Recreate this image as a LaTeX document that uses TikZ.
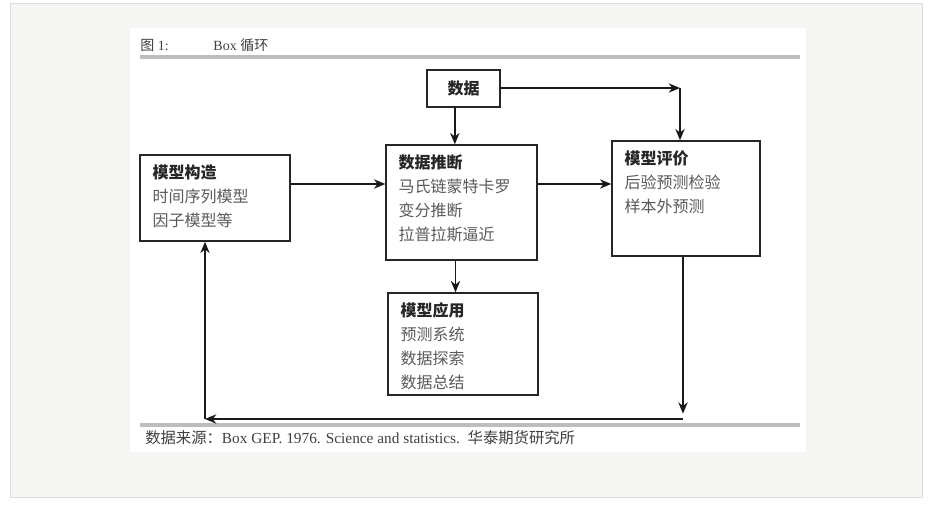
\documentclass[tikz,border=0pt]{standalone}
\usepackage{fontspec}
\setmainfont{Liberation Serif}
\newfontfamily\cjk{Noto Sans CJK SC}
\usetikzlibrary{positioning,arrows.meta}
\definecolor{pagegray}{HTML}{F5F5F3}
\definecolor{framegray}{HTML}{DCDCDC}
\definecolor{rulegray}{HTML}{BDBDBD}
\definecolor{txtgray}{HTML}{5A5A5A}

\tikzset{
  stage/.style={draw=black!85, line width=1.1pt, fill=white, inner sep=0pt},
  stagetext/.style={anchor=north west, align=left, inner sep=0pt, text=txtgray,
    font=\cjk\fontsize{12}{18}\selectfont},
  flow/.style={->, line width=1.1pt, black!90},
  grayrule/.style={rulegray, line width=2.4pt},
}
\newcommand{\hd}[1]{\textcolor{black!85}{\bfseries #1}}

\begin{document}
\begin{tikzpicture}[>={Stealth[length=8.5pt,width=7pt]}, x=0.75pt, y=-0.75pt]
\useasboundingbox (0,0) rectangle (928,506);
% page and panel
\fill[white] (0,0) rectangle (928,506);
\filldraw[fill=pagegray, draw=framegray] (10,3) rectangle (922,497);
\fill[white] (130,28) rectangle (806,452);

% title and rules
\node[anchor=west, inner sep=0pt, text=black!75, font=\fontsize{10.5}{12}\selectfont] (title) at (140,45) {{\cjk 图} 1:\hspace{3.2em}Box {\cjk 循环}};
\draw[grayrule] (140,57) -- (800,57);
\draw[grayrule] (140,425) -- (800,425);
\node[anchor=west, inner sep=0pt, text=black!75, font=\fontsize{11.5}{13}\selectfont] (source) at (145,438) {{\cjk 数据来源：}Box GEP. 1976. Science and statistics.\ \ {\cjk 华泰期货研究所}};

% boxes
\node[stage, minimum width=73*0.75pt, minimum height=37*0.75pt, font=\cjk\fontsize{12}{14}\selectfont] (data) at (463.5,88.5) {\hd{数据}};
\node[stage, minimum width=150*0.75pt, minimum height=86*0.75pt] (build) at (215,198) {};
\node[stage, minimum width=151*0.75pt, minimum height=115*0.75pt] (infer) at (461.5,202.5) {};
\node[stage, minimum width=148*0.75pt, minimum height=115*0.75pt] (eval) at (686,198.5) {};
\node[stage, minimum width=150*0.75pt, minimum height=102*0.75pt] (apply) at (463,344) {};

\node[stagetext] (build-txt) at ([shift={(13,10)}]build.north west) {\hd{模型构造}\\时间序列模型\\因子模型等};
\node[stagetext] (infer-txt) at ([shift={(13,10)}]infer.north west) {\hd{数据推断}\\马氏链蒙特卡罗\\变分推断\\拉普拉斯逼近};
\node[stagetext] (eval-txt) at ([shift={(13,10)}]eval.north west) {\hd{模型评价}\\后验预测检验\\样本外预测};
\node[stagetext] (apply-txt) at ([shift={(13,10)}]apply.north west) {\hd{模型应用}\\预测系统\\数据探索\\数据总结};

% connectors
\coordinate (mid) at (0,184);
\coordinate (c1) at (680,88);
\coordinate (c3) at (683,419);
\coordinate (c4) at (205,419);
\draw[flow] ([xshift=-6.5pt]data.south) -- ([xshift=-6.5pt]data.south |- infer.north);
\draw[flow] (data.east |- c1) -- (c1);
\draw[flow] (c1) -- (c1 |- eval.north);
\draw[flow] (build.east |- mid) -- (infer.west |- mid);
\draw[flow] (infer.east |- mid) -- (eval.west |- mid);
\draw[flow] ([xshift=-4.5pt]infer.south) -- ([xshift=-4.5pt]infer.south |- apply.north);
\draw[flow, shorten >=4pt] (c3 |- eval.south) -- (c3);
\draw[flow] (c3) -- (c4);
\draw[flow] (c4) -- (c4 |- build.south);
\end{tikzpicture}
\end{document}
